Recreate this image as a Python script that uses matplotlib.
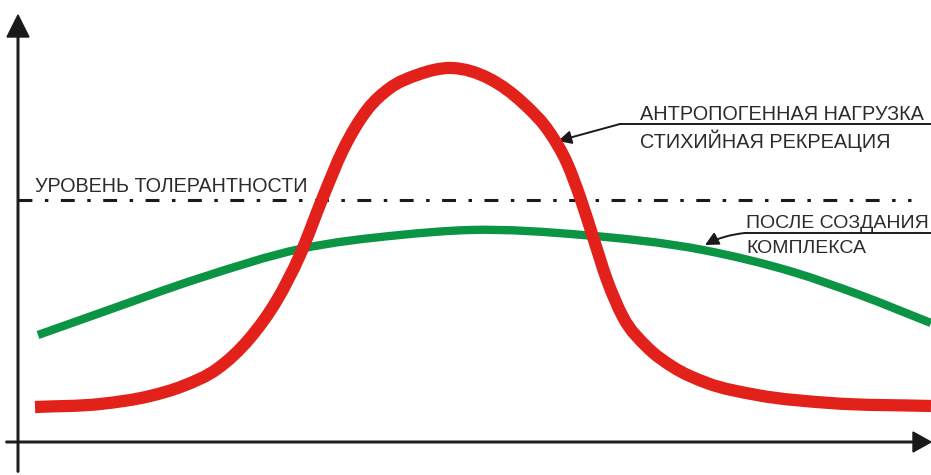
import numpy as np
import matplotlib
matplotlib.use("Agg")
import matplotlib.pyplot as plt
from matplotlib.path import Path
from matplotlib.patches import PathPatch

plt.rcParams['font.family'] = ['Liberation Sans', 'DejaVu Sans']
plt.rcParams['lines.scale_dashes'] = False

# DATA (x: time axis units, y: load level, origin at the axis crossing)
red_x = [17, 82, 132, 165, 199, 232, 259, 282, 305, 325, 349, 372, 399, 434,
         472, 505, 532, 549, 562, 575, 589, 605, 629, 655, 689, 739, 812, 913]
red_y = [35, 38, 46, 56, 73, 104, 142, 187, 245, 292, 332, 354, 367, 374,
         363, 339, 309, 279, 245, 205, 162, 125, 95, 75, 59, 47, 39, 36]

green_x = [20, 82, 182, 282, 382, 452, 565, 685, 775, 842, 913]
green_y = [107, 129, 164, 193, 207, 212, 207, 192, 170, 147, 119]

tolerance = 242
label_tol = 'УРОВЕНЬ ТОЛЕРАНТНОСТИ'
label_red = ['АНТРОПОГЕННАЯ НАГРУЗКА', 'СТИХИЙНАЯ РЕКРЕАЦИЯ']
label_green = ['ПОСЛЕ СОЗДАНИЯ', 'КОМПЛЕКСА']

RED = '#e3211b'
GREEN = '#0b9444'
INK = '#1a1a1a'
TXT = '#2b2b2b'


def smooth_path(xs, ys):
    # cubic hermite pieces through the points, drawn as bezier segments
    x = np.asarray(xs, float)
    y = np.asarray(ys, float)
    h = np.diff(x)
    d = np.diff(y) / h
    m = np.empty_like(y)
    m[0], m[-1] = d[0], d[-1]
    m[1:-1] = (d[:-1] * h[1:] + d[1:] * h[:-1]) / (h[:-1] + h[1:])
    verts = [(x[0], y[0])]
    codes = [Path.MOVETO]
    for i in range(len(x) - 1):
        verts += [(x[i] + h[i] / 3, y[i] + m[i] * h[i] / 3),
                  (x[i + 1] - h[i] / 3, y[i + 1] - m[i + 1] * h[i] / 3),
                  (x[i + 1], y[i + 1])]
        codes += [Path.CURVE4] * 3
    return Path(verts, codes)


def main():
    fig = plt.figure(figsize=(9.31, 4.75), dpi=100)
    ax = fig.add_axes([0, 0, 1, 1])
    ax.set_xlim(-18, 913)
    ax.set_ylim(-33, 442)
    ax.axis('off')

    # axes with arrows
    ax.arrow(0, -30, 0, 457, width=1.6, head_width=22, head_length=22,
             length_includes_head=True, color=INK, zorder=5)
    ax.arrow(-12, 0, 925, 0, width=1.6, head_width=20, head_length=18,
             length_includes_head=True, color=INK, zorder=5)

    # tolerance level
    ax.plot([0, 893], [tolerance, tolerance], color=INK, lw=2.2,
            dashes=(10, 9, 2.5, 9))
    ax.text(17, tolerance + 8, label_tol, fontsize=14.2, color=TXT,
            va='baseline', ha='left')

    # curves
    ax.add_patch(PathPatch(smooth_path(green_x, green_y), fill=False,
                           edgecolor=GREEN, lw=6, capstyle='butt', zorder=3))
    ax.add_patch(PathPatch(smooth_path(red_x, red_y), fill=False,
                           edgecolor=RED, lw=8.8, capstyle='butt', zorder=4))

    # labels with leaders
    ax.plot([602, 913], [318, 318], color=INK, lw=1.4)
    ax.annotate('', xy=(540, 301), xytext=(602, 318),
                arrowprops=dict(arrowstyle='-|>', lw=1.4, color=INK,
                                mutation_scale=20, shrinkA=0, shrinkB=0))
    ax.text(622, 322, label_red[0], fontsize=14.3, color=TXT, va='baseline')
    ax.text(622, 294, label_red[1], fontsize=14.3, color=TXT, va='baseline')

    ax.plot([727, 913], [209, 209], color=INK, lw=1.4)
    ax.annotate('', xy=(687, 197), xytext=(727, 209),
                arrowprops=dict(arrowstyle='-|>', lw=1.4, color=INK,
                                mutation_scale=20, shrinkA=0, shrinkB=0,
                                connectionstyle='arc3,rad=0.1'))
    ax.text(728, 214, label_green[0], fontsize=14, color=TXT, va='baseline')
    ax.text(728, 189, label_green[1], fontsize=14, color=TXT, va='baseline')

    fig.savefig('out.png', dpi=100, facecolor='white')


if __name__ == "__main__":
    main()
